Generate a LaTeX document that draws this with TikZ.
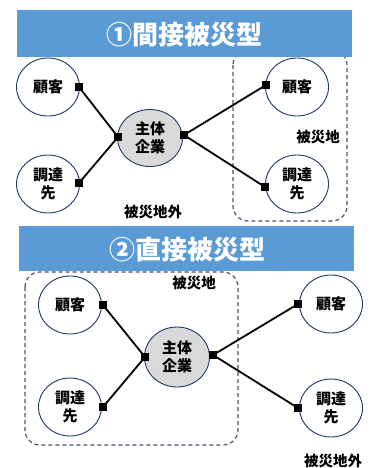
\documentclass[tikz,border=0pt]{standalone}
\usepackage{fontspec}
\setmainfont{Noto Sans CJK JP}
\usetikzlibrary{shapes.geometric}
\definecolor{banner}{HTML}{5B9BD5}
\definecolor{cborder}{HTML}{1F3864}
\definecolor{dashc}{HTML}{44546A}
\definecolor{cfill}{HTML}{D9D9D9}
\tikzset{
  circ/.style={ellipse, draw=cborder, line width=0.9pt, fill=white, minimum width=63pt, minimum height=58pt, inner sep=0pt, align=center, font=\fontsize{15}{18}\selectfont\bfseries},
  maincirc/.style={circ, fill=cfill, minimum width=65pt, minimum height=57pt},
  sq/.style={fill=black, minimum size=8pt, inner sep=0pt},
  conn/.style={line width=1.8pt, black},
  region/.style={draw=dashc, line width=1.2pt, dash pattern=on 4pt off 3pt, rounded corners=15pt},
  bannerbox/.style={fill=banner},
  titletext/.style={text=white, font=\fontsize{26}{28}\selectfont\bfseries},
  lbl/.style={font=\fontsize{14.5}{16}\selectfont\bfseries}
}
\begin{document}
\begin{tikzpicture}[x=1pt,y=-1pt]
\useasboundingbox (0,0) rectangle (370,468);
% ---------- Section 1 ----------
\draw[region] (233,50) rectangle (347,221);
\fill[bannerbox] (17,10) rectangle (352,57);
\node[titletext] (t1) at (184,35) {①間接被災型};
\node[circ] (a1) at (48,87) {顧客};
\node[circ] (a2) at (48,184) {調達\\先};
\node[maincirc] (a3) at (150,138) {主体\\企業};
\node[circ] (a4) at (297,87) {顧客};
\node[circ] (a5) at (297,184) {調達\\先};
\node[sq] (s1) at (79,87) {};
\node[sq] (s2) at (79,183) {};
\node[sq] (s3) at (118,137) {};
\node[sq] (s4) at (184,135) {};
\node[sq] (s5) at (266,85) {};
\node[sq] (s6) at (265,187) {};
\draw[conn] (s1.center) -- (s3.center);
\draw[conn] (s2.center) -- (s3.center);
\draw[conn] (s4.center) -- (s5.center);
\draw[conn] (s4.center) -- (s6.center);
\node[lbl] (l1) at (318,137) {被災地};
\node[lbl] (l2) at (153,212) {被災地外};
% ---------- Section 2 ----------
\draw[region] (25,272) rectangle (238,445);
\fill[bannerbox] (19,226) rectangle (354,271);
\node[titletext] (t2) at (187,250) {②直接被災型};
\node[circ] (b1) at (70,305) {顧客};
\node[circ] (b2) at (70,407) {調達\\先};
\node[maincirc, minimum height=60pt] (b3) at (177,357) {主体\\企業};
\node[circ] (b4) at (331,304) {顧客};
\node[circ] (b5) at (331,408) {調達\\先};
\node[sq] (r1) at (103,305) {};
\node[sq] (r2) at (103,407) {};
\node[sq] (r3) at (145,357) {};
\node[sq] (r4) at (213,355) {};
\node[sq] (r5) at (298,304) {};
\node[sq] (r6) at (298,408) {};
\draw[conn] (r1.center) -- (r3.center);
\draw[conn] (r2.center) -- (r3.center);
\draw[conn] (r4.center) -- (r5.center);
\draw[conn] (r4.center) -- (r6.center);
\node[lbl] (l3) at (194,283) {被災地};
\node[lbl] (l4) at (333,461) {被災地外};
\end{tikzpicture}
\end{document}
